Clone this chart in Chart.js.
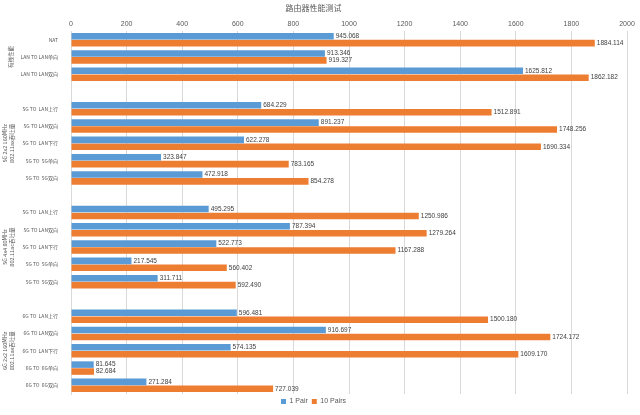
<!DOCTYPE html>
<html>
<head>
<meta charset="utf-8">
<script src="https://cdn.jsdelivr.net/npm/chart.js@4/dist/chart.umd.min.js"></script>
<style>
  body { margin: 0; background: #fff; }
  #wrap { width: 640px; height: 415px; }
</style>
</head>
<body>
<div id="wrap"><canvas id="c"></canvas></div>
<script>
// 类别（空字符串为组间空行）
const labels = [
  'NAT', 'LAN TO LAN单向', 'LAN TO LAN双向', '',
  '5G TO  LAN上行', '5G TO LAN双向', '5G TO  LAN下行', '5G TO  5G单向', '5G TO  5G双向', '',
  '5G TO  LAN上行', '5G TO LAN双向', '5G TO  LAN下行', '5G TO  5G单向', '5G TO  5G双向', '',
  '6G TO  LAN上行', '6G TO LAN双向', '6G TO  LAN下行', '6G TO  6G单向', '6G TO  6G双向'
];
const pair1 = [
  945.068, 913.346, 1625.812, null,
  684.229, 891.237, 622.278, 323.847, 472.918, null,
  495.295, 787.394, 522.773, 217.545, 311.711, null,
  596.481, 916.697, 574.135, 81.645, 271.284
];
const pair10 = [
  1884.114, 919.327, 1862.182, null,
  1512.891, 1748.256, 1690.334, 783.165, 854.278, null,
  1250.986, 1279.264, 1167.288, 560.402, 592.490, null,
  1500.180, 1724.172, 1609.170, 82.684, 727.039
];
// 分组标签：[起始索引, 结束索引, 文本行]
const groups = [
  [0, 2, ['有线性能']],
  [4, 8, ['5G 2x2 160MHz', '802.11ax吞吐量']],
  [10, 14, ['5G 4x4 80MHz', '802.11ac吞吐量']],
  [16, 20, ['6G 2x2 160MHz', '802.11ax吞吐量']]
];

const groupPlugin = {
  id: 'groups',
  afterDraw(chart) {
    const ctx = chart.ctx;
    const y = chart.scales.y;
    ctx.save();
    ctx.fillStyle = '#595959';
    ctx.font = '5.5px "Noto Sans CJK SC", sans-serif';
    ctx.textAlign = 'center';
    ctx.textBaseline = 'middle';
    groups.forEach(([a, b, lines]) => {
      const mid = (y.getPixelForValue(a) + y.getPixelForValue(b)) / 2;
      ctx.save();
      ctx.translate(lines.length > 1 ? 8 : 11, mid);
      ctx.rotate(-Math.PI / 2);
      lines.forEach((t, i) => {
        ctx.fillText(t, 0, (i - (lines.length - 1) / 2) * 7);
      });
      ctx.restore();
    });
    ctx.restore();
  }
};

const valuePlugin = {
  id: 'values',
  afterDatasetsDraw(chart) {
    const ctx = chart.ctx;
    ctx.save();
    ctx.fillStyle = '#404040';
    ctx.font = '6.5px "Liberation Sans", sans-serif';
    ctx.textBaseline = 'middle';
    chart.data.datasets.forEach((ds, di) => {
      chart.getDatasetMeta(di).data.forEach((bar, i) => {
        if (ds.data[i] == null) return;
        ctx.fillText(ds.data[i].toFixed(3), bar.x + 2, bar.y);
      });
    });
    ctx.restore();
  }
};

new Chart(document.getElementById('c'), {
  type: 'bar',
  data: {
    labels: labels,
    datasets: [
      { label: '1 Pair', data: pair1, backgroundColor: '#5B9BD5', categoryPercentage: 0.8, barPercentage: 0.95 },
      { label: '10 Pairs', data: pair10, backgroundColor: '#ED7D31', categoryPercentage: 0.8, barPercentage: 0.95 }
    ]
  },
  options: {
    indexAxis: 'y',
    responsive: true,
    maintainAspectRatio: false,
    animation: false,
    layout: { padding: { left: 0, right: 13, top: 0, bottom: 0 } },
    scales: {
      x: {
        position: 'top',
        min: 0, max: 2000,
        ticks: { stepSize: 200, color: '#595959', font: { size: 7 }, padding: 3, callback: v => String(v) },
        grid: { color: '#d9d9d9', drawTicks: false },
        border: { display: false }
      },
      y: {
        ticks: { color: '#595959', font: { size: 5, family: '"Noto Sans CJK SC", sans-serif' }, autoSkip: false, padding: 5 },
        afterFit(s) { s.width = 71; },
        grid: { display: false },
        border: { color: '#d9d9d9' }
      }
    },
    plugins: {
      title: { display: true, text: '路由器性能测试', color: '#595959', font: { size: 8, weight: 'normal', family: '"Noto Sans CJK SC", sans-serif' }, padding: { top: 3, bottom: 4 } },
      legend: {
        position: 'bottom',
        labels: { color: '#595959', font: { size: 7 }, boxWidth: 5, boxHeight: 5, padding: 4 }
      },
      tooltip: { enabled: false }
    }
  },
  plugins: [groupPlugin, valuePlugin]
});
</script>
</body>
</html>
